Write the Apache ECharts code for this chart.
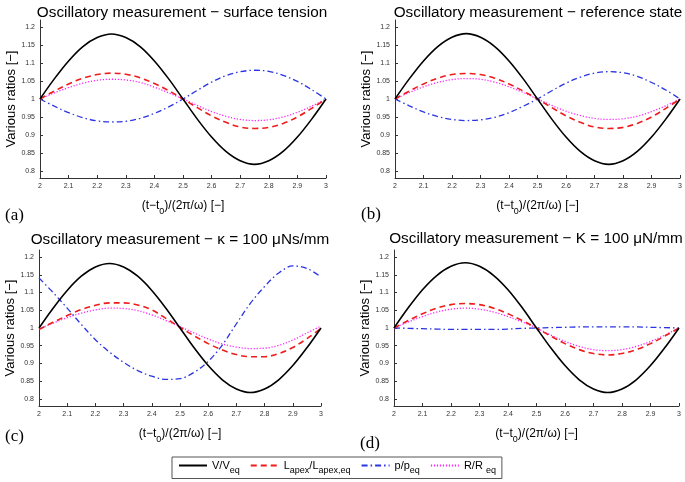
<!DOCTYPE html>
<html><head><meta charset="utf-8">
<script src="https://cdn.jsdelivr.net/npm/echarts@6/dist/echarts.min.js"></script>
<style>html,body{margin:0;padding:0;background:#fff}#c{width:685px;height:482px}</style>
</head><body><div id="c"></div>
<script>
const xs = [2,2.05,2.1,2.15,2.2,2.25,2.3,2.35,2.4,2.45,2.5,2.55,2.6,2.65,2.7,2.75,2.8,2.85,2.9,2.95,3];
const xTicks = [2,2.1,2.2,2.3,2.4,2.5,2.6,2.7,2.8,2.9,3];
const yTicks = [0.8,0.85,0.9,0.95,1,1.05,1.1,1.15,1.2];
const seriesNames = ['V/V_eq','L_apex/L_apex,eq','p/p_eq','R/R_eq'];
const panelTitles = ['Oscillatory measurement \u2212 surface tension','Oscillatory measurement \u2212 reference state','Oscillatory measurement \u2212 \u03ba = 100 \u03bcNs/mm','Oscillatory measurement \u2212 K = 100 \u03bcN/mm'];
const panelLabels = ['(a)','(b)','(c)','(d)'];

// panel (a)
const aV = [1.000,1.056,1.106,1.146,1.171,1.181,1.171,1.146,1.106,1.056,1.000,0.944,0.894,0.854,0.828,0.818,0.828,0.854,0.894,0.944,1.000];
const aL = [1.000,1.022,1.042,1.058,1.068,1.072,1.069,1.059,1.043,1.023,1.000,0.976,0.953,0.935,0.922,0.918,0.921,0.932,0.950,0.974,1.000];
const aP = [1.000,0.980,0.962,0.948,0.939,0.936,0.938,0.946,0.960,0.978,1.000,1.024,1.047,1.065,1.076,1.080,1.077,1.066,1.049,1.026,1.000];
const aR = [1.000,1.017,1.032,1.044,1.052,1.055,1.053,1.046,1.033,1.017,1.000,0.982,0.965,0.952,0.943,0.940,0.942,0.950,0.963,0.980,1.000];
// panel (b)
const bV = [1.000,1.056,1.106,1.146,1.172,1.182,1.172,1.146,1.106,1.056,1.000,0.944,0.894,0.854,0.828,0.818,0.828,0.854,0.894,0.944,1.000];
const bL = [1.000,1.022,1.042,1.058,1.068,1.071,1.068,1.058,1.042,1.022,1.000,0.976,0.953,0.935,0.922,0.918,0.921,0.932,0.950,0.974,1.000];
const bP = [1.000,0.981,0.964,0.951,0.943,0.940,0.942,0.949,0.962,0.980,1.000,1.023,1.044,1.061,1.072,1.076,1.073,1.063,1.046,1.025,1.000];
const bR = [1.000,1.018,1.034,1.046,1.054,1.057,1.055,1.047,1.034,1.018,1.000,0.982,0.966,0.954,0.946,0.943,0.945,0.952,0.965,0.981,1.000];
// panel (c)
const cV = [1.000,1.056,1.106,1.146,1.172,1.182,1.172,1.146,1.106,1.056,1.000,0.944,0.894,0.854,0.828,0.818,0.828,0.854,0.894,0.944,1.000];
const cL = [0.996,1.016,1.035,1.052,1.064,1.071,1.071,1.065,1.051,1.027,1.002,0.978,0.956,0.938,0.925,0.919,0.919,0.928,0.945,0.970,0.999];
const cP = [1.141,1.100,1.056,1.010,0.967,0.932,0.903,0.880,0.864,0.855,0.857,0.875,0.906,0.952,1.012,1.070,1.117,1.155,1.175,1.168,1.144];
const cR = [0.997,1.014,1.029,1.042,1.051,1.056,1.055,1.049,1.037,1.021,1.004,0.986,0.969,0.955,0.946,0.942,0.943,0.951,0.966,0.986,1.005];
// panel (d)
const dV = [1.000,1.057,1.108,1.148,1.174,1.184,1.174,1.148,1.108,1.057,1.000,0.944,0.894,0.854,0.828,0.818,0.828,0.854,0.894,0.944,1.000];
const dL = [1.000,1.021,1.040,1.056,1.066,1.069,1.066,1.056,1.040,1.021,1.000,0.977,0.956,0.939,0.928,0.924,0.928,0.939,0.956,0.977,1.000];
const dP = [1.000,0.999,0.998,0.997,0.996,0.996,0.996,0.996,0.997,0.999,1.000,1.001,1.002,1.003,1.003,1.003,1.003,1.003,1.002,1.001,1.000];
const dR = [1.000,1.017,1.032,1.045,1.053,1.056,1.053,1.045,1.032,1.017,1.000,0.980,0.962,0.948,0.939,0.936,0.939,0.948,0.962,0.980,1.000];

const panels = [[aV,aL,aP,aR],[bV,bL,bP,bR],[cV,cL,cP,cR],[dV,dL,dP,dR]];

const FONT = 'Liberation Sans';
const grids = [
  {left:40, top:20, width:286, height:158},
  {left:395, top:20, width:287, height:158},
  {left:39, top:250, width:282, height:156},
  {left:394, top:250, width:285, height:156}
];
const titlePos = [[177,0],[533,0],[175,227],[531,226]];
const labelPos = [[0,202],[356,201],[0,423],[355,430]];

const styles = [
  {color:'#000000', width:1.6, type:'solid'},
  {color:'#ee1c1c', width:1.6, type:[6,4]},
  {color:'#2a35e0', width:1.3, type:[6,3,1.5,3]},
  {color:'#ff22ff', width:1.3, type:[1.2,1.8]}
];

const rich = {
  n:{fontFamily:FONT, fontSize:11, color:'#000', lineHeight:14},
  s:{fontFamily:FONT, fontSize:9, color:'#000', lineHeight:20, verticalAlign:'bottom'}
};
const legendFmt = {
  'V/V_eq':'{n|V/V}{s|eq}',
  'L_apex/L_apex,eq':'{n|L}{s|apex}{n|/L}{s|apex,eq}',
  'p/p_eq':'{n|p/p}{s|eq}',
  'R/R_eq':'{n|R/R }{s|eq}'
};

const option = {
  backgroundColor:'#fff',
  animation:false,
  title: [
    ...panelTitles.map((t,i)=>({text:t, left:titlePos[i][0], top:titlePos[i][1], textAlign:'center',
      textStyle:{fontFamily:FONT, fontSize:15.3, fontWeight:'normal', color:'#000'}})),
    ...panelLabels.map((t,i)=>({text:t, left:labelPos[i][0], top:labelPos[i][1],
      textStyle:{fontFamily:'Liberation Serif', fontSize:17, fontWeight:'normal', color:'#000'}}))
  ],
  grid: grids,
  xAxis: grids.map((g,i)=>({
    type:'value', gridIndex:i, min:2, max:3,
    name:'{n|(t\u2212t}{s|0}{n|)/(2\u03c0/\u03c9) [\u2212]}', nameLocation:'middle', nameGap:17,
    nameTextStyle:{rich:{
      n:{fontFamily:FONT, fontSize:12, color:'#000', lineHeight:15},
      s:{fontFamily:FONT, fontSize:9, color:'#000', lineHeight:21, verticalAlign:'bottom'}
    }},
    axisLine:{lineStyle:{color:'#333', width:1}},
    axisTick:{inside:true, length:3, customValues:xTicks, lineStyle:{color:'#333'}},
    axisLabel:{customValues:xTicks, fontFamily:FONT, fontSize:7, color:'#333', margin:5,
      formatter:v=>String(+(+v).toFixed(2))},
    splitLine:{show:false}
  })),
  yAxis: grids.map((g,i)=>({
    type:'value', gridIndex:i, min:0.78, max:1.22,
    name:'Various ratios [\u2212]', nameLocation:'middle', nameGap:22,
    nameTextStyle:{fontFamily:FONT, fontSize:13, color:'#000'},
    axisLine:{show:true, lineStyle:{color:'#333', width:1}},
    axisTick:{show:true, inside:true, length:3, customValues:yTicks, lineStyle:{color:'#333'}},
    axisLabel:{customValues:yTicks, fontFamily:FONT, fontSize:7, color:'#333', margin:5,
      formatter:v=>String(+(+v).toFixed(2))},
    splitLine:{show:false}
  })),
  legend: {
    left:172, top:457,
    orient:'horizontal',
    data:seriesNames,
    itemWidth:28, itemHeight:10, itemGap:10,
    padding:[3,6,3,6],
    borderColor:'#555', borderWidth:1,
    itemStyle:{opacity:0},
    formatter: n => legendFmt[n],
    textStyle:{rich:rich, fontFamily:FONT, fontSize:11}
  },
  series: []
};

panels.forEach((arrs,i)=>{
  arrs.forEach((arr,k)=>{
    option.series.push({
      type:'line', name:seriesNames[k], xAxisIndex:i, yAxisIndex:i,
      data: xs.map((x,j)=>[x, arr[j]]),
      smooth:0.35, symbol:'none', showSymbol:false,
      lineStyle:{color:styles[k].color, width:styles[k].width, type:styles[k].type},
      itemStyle:{color:styles[k].color},
      z: 10-k
    });
  });
});

const chart = echarts.init(document.getElementById('c'), null, {renderer:'canvas'});
chart.setOption(option);
</script>
</body></html>
